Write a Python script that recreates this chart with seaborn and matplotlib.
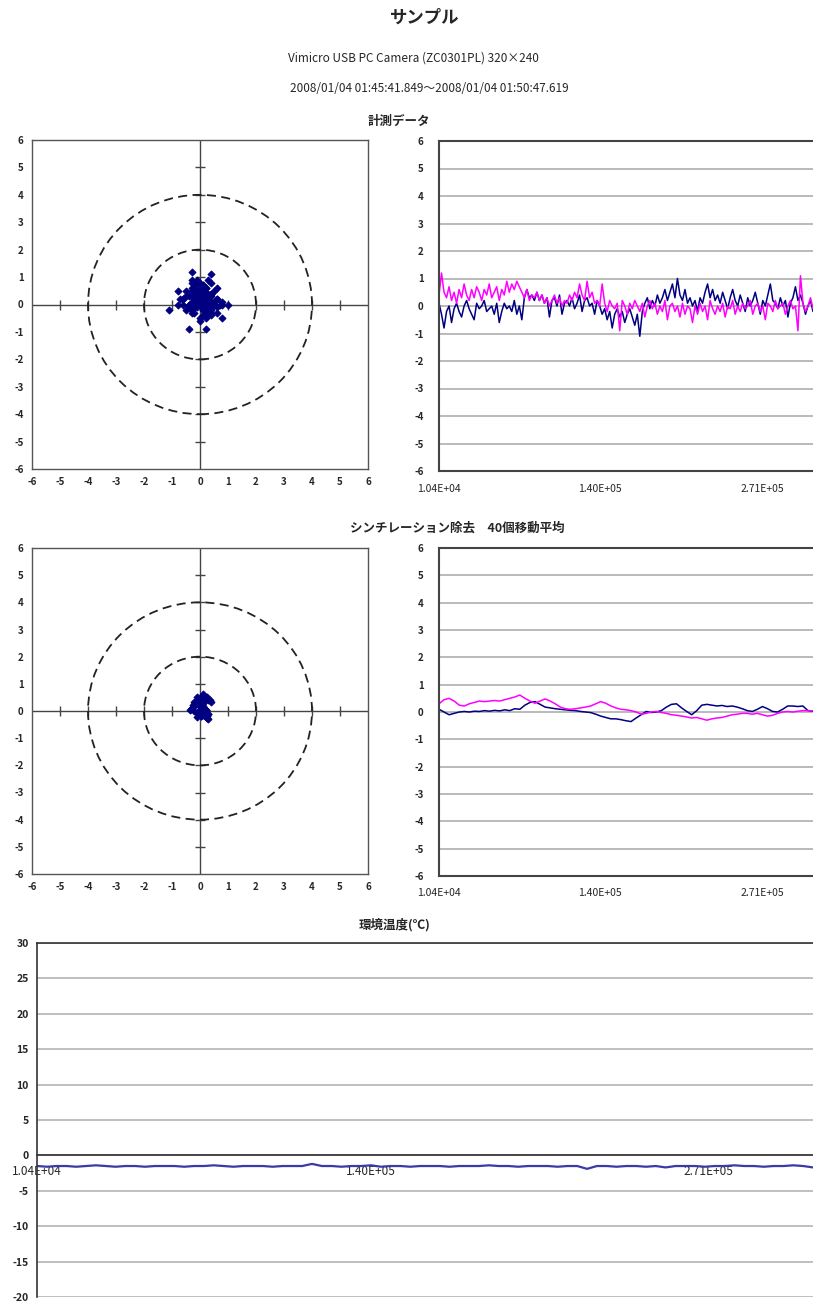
import numpy as np
import pandas as pd
import seaborn as sns
import matplotlib.pyplot as plt
from matplotlib.patches import Circle

# Measurement window (ms) shown on the time axes
t_start = 10400
t_end = 311500

# Raw measured displacement, X (navy) and Y (magenta)
x_raw = [0.1, -0.3, -0.8, -0.2, 0.0, -0.6, -0.1, 0.1, -0.2, -0.4, 0.0, 0.2, -0.1, -0.3, -0.5, 0.1,
         -0.1, 0.0, 0.2, -0.2, -0.1, 0.0, -0.3, 0.1, -0.6, -0.2, 0.1, -0.1, 0.0, -0.2, 0.2, -0.3,
         0.0, -0.5, 0.3, 0.6, 0.3, 0.4, 0.2,
         0.5, 0.2, 0.4, 0.1, 0.3, -0.4, 0.2, 0.3, 0.0, 0.4, -0.3, 0.1, 0.2, 0.0, 0.3, -0.1, 0.1,
         0.4, -0.2, 0.2, 0.3, 0.0, 0.1, -0.3, 0.2, 0.0,
         -0.3, -0.1, -0.5, -0.2, -0.8, -0.3, -0.1, -0.4, -0.2, -0.6, -0.3, -0.1, -0.4, -0.7, -0.3,
         -1.1, -0.2, 0.1, 0.3, -0.1, 0.2, 0.0, 0.4, 0.1, 0.3, 0.6, 0.2, 0.5, 0.8, 0.3, 1.0, 0.4,
         0.2, 0.6, 0.1, 0.3,
         0.0, 0.2, -0.2, 0.3, 0.1, 0.5, 0.8, 0.3, 0.6, 0.2, 0.4, 0.1, 0.5, 0.2, -0.1, 0.3, 0.6,
         0.2, 0.0, 0.4, 0.1, -0.2, 0.3, 0.0, 0.2, 0.5, 0.1, -0.3, 0.2, 0.0, 0.4, 0.8, 0.2, 0.1,
         -0.1, 0.3, 0.0, 0.2, -0.4, 0.1, 0.3, 0.7, 0.2, 0.4, 0.1, -0.3, 0.0, 0.2, -0.2]
y_raw = [0.4, 1.2, 0.5, 0.3, 0.7, 0.2, 0.5, 0.1, 0.6, 0.3, 0.8, 0.4, 0.2, 0.6, 0.3, 0.7, 0.5,
         0.2, 0.6, 0.4, 0.8, 0.3, 0.5, 0.7, 0.2, 0.6, 0.4, 0.9, 0.5, 0.8, 0.6, 0.9, 0.7, 0.5,
         0.3, 0.6, 0.2, 0.4, 0.3,
         0.5, 0.2, 0.4, 0.1, 0.3, 0.0, 0.2, 0.4, 0.1, 0.3, 0.0, 0.2, 0.1, 0.4, 0.2, 0.5, 0.3,
         0.8, 0.4, 0.2, 0.9, 0.3, 0.5, 0.1, 0.2, 0.0,
         0.8, 0.1, -0.2, 0.2, 0.0, -0.1, 0.1, -0.9, 0.2, 0.0, -0.3, 0.1, -0.1, 0.2, 0.0, -0.2,
         0.1, -0.4, 0.0, 0.2, -0.1, 0.1, -0.3, 0.0, -0.2, 0.2, -0.5, 0.0, 0.1, -0.2, 0.0, -0.4,
         0.1, -0.3, 0.0, -0.1,
         -0.6, 0.0, -0.3, 0.1, -0.2, 0.0, -0.5, 0.2, -0.1, -0.3, 0.0, -0.2, 0.1, -0.4, 0.0,
         -0.1, 0.2, -0.3, 0.0, -0.2, 0.1, -0.1, 0.0, 0.2, -0.3, 0.0, 0.1, -0.2, 0.0, -0.5, 0.1,
         0.0, -0.2, 0.2, -0.1, 0.0, 0.1, -0.3, 0.0, 0.2, -0.1, 0.0, -0.9, 1.1, 0.1, -0.2, 0.0,
         0.3, -0.1]

# Scintillation removed, 40-point moving average
x_avg = [0.10, 0.00, -0.10, -0.05, 0.00, 0.02, 0.00, 0.03, 0.02, 0.05, 0.03, 0.06, 0.04, 0.08,
         0.05, 0.12, 0.10, 0.25, 0.35, 0.38, 0.28, 0.18, 0.15, 0.12, 0.10, 0.08, 0.06, 0.05,
         0.02, 0.00, -0.02, -0.08, -0.15, -0.20, -0.25, -0.25, -0.28, -0.32, -0.35, -0.22,
         -0.10, 0.02, -0.02, 0.00, 0.05, 0.18, 0.28, 0.30, 0.15, 0.02, -0.10, 0.05, 0.25, 0.28,
         0.25, 0.22, 0.24, 0.20, 0.22, 0.18, 0.12, 0.05, 0.02, 0.10, 0.20, 0.12, 0.02, 0.00,
         0.10, 0.22, 0.22, 0.20, 0.22, 0.05, 0.03]
y_avg = [0.30, 0.45, 0.50, 0.40, 0.25, 0.22, 0.30, 0.35, 0.40, 0.38, 0.40, 0.42, 0.40, 0.45,
         0.50, 0.55, 0.62, 0.50, 0.40, 0.32, 0.40, 0.48, 0.40, 0.30, 0.18, 0.12, 0.10, 0.12,
         0.15, 0.18, 0.22, 0.30, 0.38, 0.32, 0.22, 0.15, 0.10, 0.08, 0.05, 0.00, -0.08, -0.05,
         0.00, 0.02, -0.02, -0.05, -0.10, -0.12, -0.15, -0.18, -0.22, -0.20, -0.25, -0.30,
         -0.25, -0.22, -0.20, -0.15, -0.10, -0.08, -0.05, -0.05, -0.08, -0.05, -0.10, -0.15,
         -0.12, -0.05, 0.00, 0.02, 0.00, 0.03, 0.05, 0.05, 0.04]

# Ambient temperature (deg C)
temp = [-1.5, -1.6, -1.5, -1.5, -1.6, -1.5, -1.4, -1.5, -1.6, -1.5,
        -1.5, -1.6, -1.5, -1.5, -1.5, -1.6, -1.5, -1.5, -1.4, -1.5,
        -1.6, -1.5, -1.5, -1.5, -1.6, -1.5, -1.5, -1.5, -1.2, -1.5,
        -1.5, -1.6, -1.5, -1.5, -1.4, -1.6, -1.5, -1.5, -1.6, -1.5,
        -1.5, -1.5, -1.6, -1.5, -1.5, -1.5, -1.4, -1.5, -1.5, -1.6,
        -1.5, -1.5, -1.5, -1.6, -1.5, -1.5, -1.9, -1.5, -1.5, -1.6,
        -1.5, -1.5, -1.6, -1.5, -1.7, -1.5, -1.5, -1.5, -1.6, -1.5,
        -1.5, -1.4, -1.5, -1.5, -1.6, -1.5, -1.5, -1.4, -1.5, -1.7]

time_ticks = [10400, 140000, 271000]
time_labels = ['1.04E+04', '1.40E+05', '2.71E+05']
time_minor = [75200, 205500]
ring_radii = [2, 4]

NAVY = '#000080'
MAGENTA = '#ff00ff'

sns.set_style('white')
plt.rcParams['font.family'] = ['Noto Sans CJK JP', 'DejaVu Sans']
plt.rcParams['axes.unicode_minus'] = False

W, H = 813, 1301
fig = plt.figure(figsize=(W / 100, H / 100), dpi=100)


def px_rect(left, top, right, bottom):
    return [left / W, 1 - bottom / H, (right - left) / W, (bottom - top) / H]


def make_frame(n):
    return pd.DataFrame({'time': np.linspace(t_start, t_end, n)})


def style_target(ax):
    ax.set_xlim(-6, 6)
    ax.set_ylim(-6, 6)
    ticks = list(range(-6, 7))
    ax.set_xticks(ticks)
    ax.set_xticklabels([str(t) for t in ticks], fontsize=7, fontweight='bold')
    ax.set_yticks(ticks)
    ax.set_yticklabels([str(t) for t in ticks], fontsize=7, fontweight='bold')
    ax.tick_params(length=0, pad=6)
    ax.axhline(0, color='#444444', lw=1, zorder=1)
    ax.axvline(0, color='#444444', lw=1, zorder=1)
    inner = [t for t in range(-5, 6) if t != 0]
    ax.plot(inner, [0] * len(inner), ls='none', marker='|', ms=7, mew=1, color='#444444', zorder=1)
    ax.plot([0] * len(inner), inner, ls='none', marker='_', ms=7, mew=1, color='#444444', zorder=1)
    for r in ring_radii:
        ax.add_patch(Circle((0, 0), r, fill=False, ls=(0, (5, 3)), lw=1.3, ec='#222222', zorder=2))
    for s in ax.spines.values():
        s.set_color('#555555')
        s.set_linewidth(1)
    ax.set_xlabel('')
    ax.set_ylabel('')


def style_trend(ax):
    ax.set_xlim(t_start, t_end)
    ax.set_ylim(-6, 6)
    ticks = list(range(-6, 7))
    ax.set_yticks(ticks)
    ax.set_yticklabels([str(t) for t in ticks], fontsize=7, fontweight='bold')
    ax.set_xticks(time_ticks)
    ax.set_xticklabels(time_labels, fontsize=7.5)
    ax.set_xticks(time_minor, minor=True)
    ax.tick_params(axis='x', which='both', direction='in', length=4, color='#333333', pad=9)
    ax.tick_params(axis='y', direction='out', length=3, color='#333333', pad=8)
    ax.grid(axis='y', color='#b4b4b4', lw=1.3)
    ax.set_axisbelow(True)
    ax.spines['right'].set_visible(False)
    for k in ['left', 'top', 'bottom']:
        ax.spines[k].set_color('#444444')
        ax.spines[k].set_linewidth(1.5)
    ax.set_xlabel('')
    ax.set_ylabel('')


def draw_pair(ax, xs, ys):
    df = make_frame(len(xs))
    df['X'] = xs
    df['Y'] = ys
    long = df.melt(id_vars='time', var_name='axis', value_name='value')
    sns.lineplot(data=long, x='time', y='value', hue='axis', hue_order=['X', 'Y'],
                 palette={'X': NAVY, 'Y': MAGENTA}, lw=1.1, legend=False, ax=ax)


# Titles
fig.text(425 / W, 1 - 18 / H, 'サンプル', ha='center', va='center', fontsize=12.5, fontweight='bold')
fig.text(413 / W, 1 - 58 / H, 'Vimicro USB PC Camera (ZC0301PL) 320×240', ha='center', va='center', fontsize=8.5)
fig.text(429 / W, 1 - 89 / H, '2008/01/04 01:45:41.849～2008/01/04 01:50:47.619', ha='center', va='center', fontsize=8.5)
fig.text(399 / W, 1 - 121 / H, '計測データ', ha='center', va='center', fontsize=9, fontweight='bold')
fig.text(457 / W, 1 - 528 / H, 'シンチレーション除去　40個移動平均', ha='center', va='center', fontsize=9, fontweight='bold')
fig.text(395 / W, 1 - 925 / H, '環境温度(℃)', ha='center', va='center', fontsize=9, fontweight='bold')

# Raw data: scatter and trend
ax1 = fig.add_axes(px_rect(32, 140, 368, 469))
sns.scatterplot(x=x_raw, y=y_raw, color=NAVY, marker='D', s=12, edgecolor=NAVY, linewidth=0.8, ax=ax1, zorder=3)
style_target(ax1)

ax2 = fig.add_axes(px_rect(439, 141, 813, 471))
draw_pair(ax2, x_raw, y_raw)
style_trend(ax2)

# Moving average: scatter and trend
ax3 = fig.add_axes(px_rect(32, 548, 368, 874))
sns.scatterplot(x=x_avg, y=y_avg, color=NAVY, marker='D', s=12, edgecolor=NAVY, linewidth=0.8, ax=ax3, zorder=3)
style_target(ax3)

ax4 = fig.add_axes(px_rect(439, 548, 813, 876))
draw_pair(ax4, x_avg, y_avg)
style_trend(ax4)

# Temperature
ax5 = fig.add_axes(px_rect(37, 943, 813, 1297))
df_t = make_frame(len(temp))
df_t['temp'] = temp
sns.lineplot(data=df_t, x='time', y='temp', color='#3a3aa8', lw=1.6, ax=ax5)
# move the time axis onto the zero line before styling its ticks
ax5.spines['bottom'].set_position(('data', 0))
ax5.set_xlim(t_start, t_end)
ax5.set_ylim(-20, 30)
yt = list(range(-20, 31, 5))
ax5.set_yticks(yt)
ax5.set_yticklabels([str(t) for t in yt], fontsize=7.5, fontweight='bold')
ax5.set_yticks(list(range(-20, 31)), minor=True)
ax5.tick_params(axis='y', which='both', direction='in', length=4, color='#333333', pad=6)
ax5.set_xticks(time_ticks)
ax5.set_xticklabels(time_labels, fontsize=8.5)
ax5.set_xticks(time_minor, minor=True)
ax5.tick_params(axis='x', which='both', direction='in', length=4, color='#333333', pad=7)
ax5.grid(axis='y', which='major', color='#b4b4b4', lw=1.2)
ax5.set_axisbelow(True)
ax5.spines['right'].set_visible(False)
for k in ['left', 'top', 'bottom']:
    ax5.spines[k].set_color('#333333')
    ax5.spines[k].set_linewidth(1.2)
ax5.set_xlabel('')
ax5.set_ylabel('')

fig.savefig('out.png', dpi=100)
